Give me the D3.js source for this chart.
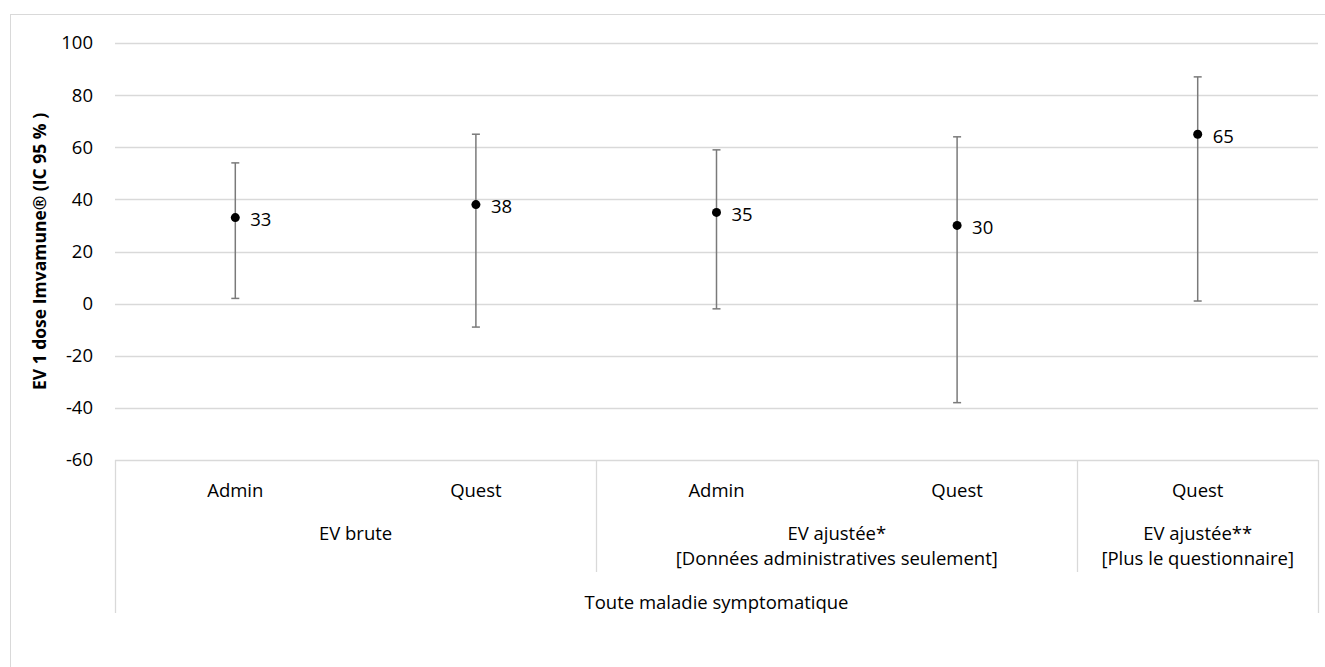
<!DOCTYPE html>
<html>
<head>
<meta charset="utf-8">
<script src="https://cdn.jsdelivr.net/npm/d3@7"></script>
<style>
  body { margin: 0; background: #fff; }
  text { font-family: "Open Sans", "Noto Sans", sans-serif; fill: #000; }
</style>
</head>
<body>
<svg id="canvas" width="1325" height="667"></svg>
<script>
// data
let categories = ['Admin', 'Quest', 'Admin', 'Quest', 'Quest'];
let estimates = [33, 38, 35, 30, 65];
let lower = [2, -9, -2, -38, 1];
let upper = [54, 65, 59, 64, 87];
let groupLabels = [['EV brute'], ['EV ajustée*', '[Données administratives seulement]'], ['EV ajustée**', '[Plus le questionnaire]']];
let groupSizes = [2, 2, 1];
let outerLabel = 'Toute maladie symptomatique';
let yTicks = [-60, -40, -20, 0, 20, 40, 60, 80, 100];
let yTitle = 'EV 1 dose Imvamune® (IC 95 % )';

let svg = d3.select('#canvas');
let plotLeft = 115, plotRight = 1318, plotTop = 43, plotBottom = 460;
let fs = 18.5;

// chart border
svg.append('rect')
    .attr('x', 10.5).attr('y', 14.5)
    .attr('width', 1340).attr('height', 700)
    .attr('fill', 'none').attr('stroke', '#d9d9d9');

let x = d3.scaleBand()
    .domain(d3.range(categories.length))
    .range([plotLeft, plotRight]);

let y = d3.scaleLinear()
    .domain([-60, 100])
    .range([plotBottom, plotTop]);

// grid
svg.append('g')
    .selectAll('line')
    .data(yTicks)
    .enter()
    .append('line')
    .attr('x1', plotLeft).attr('x2', plotRight)
    .attr('y1', d => Math.round(y(d)) + 0.5)
    .attr('y2', d => Math.round(y(d)) + 0.5)
    .attr('stroke', '#d9d9d9')
    .attr('stroke-width', 1.3);

// y axis labels
let yAxis = svg.append('g')
    .attr('transform', `translate(${plotLeft - 22},0)`)
    .call(d3.axisLeft(y).tickValues(yTicks).tickSize(0).tickPadding(0).tickFormat(d => String(d)));
yAxis.select('.domain').remove();
yAxis.selectAll('text')
    .attr('font-size', fs)
    .attr('font-family', '"Open Sans", sans-serif')
    .attr('fill', '#000');

// y title
svg.append('text')
    .attr('transform', `translate(46,${(plotTop + plotBottom) / 2}) rotate(-90)`)
    .attr('text-anchor', 'middle')
    .attr('font-size', 17.5)
    .attr('font-weight', 'bold')
    .text(yTitle);

// error bars
let bars = svg.append('g');
categories.forEach((c, i) => {
    let cx = x(i) + x.bandwidth() / 2;
    bars.append('line')
        .attr('x1', cx).attr('x2', cx)
        .attr('y1', y(upper[i])).attr('y2', y(lower[i]))
        .attr('stroke', '#7a7a7a').attr('stroke-width', 1.5);
    [upper[i], lower[i]].forEach(v => {
        bars.append('line')
            .attr('x1', cx - 4).attr('x2', cx + 4)
            .attr('y1', y(v)).attr('y2', y(v))
            .attr('stroke', '#7a7a7a').attr('stroke-width', 1.5);
    });
});

// points + labels
svg.append('g')
    .selectAll('circle')
    .data(estimates)
    .enter()
    .append('circle')
    .attr('cx', (d, i) => x(i) + x.bandwidth() / 2)
    .attr('cy', d => y(d))
    .attr('r', 4.5)
    .attr('fill', '#000');

svg.append('g')
    .selectAll('text')
    .data(estimates)
    .enter()
    .append('text')
    .attr('x', (d, i) => x(i) + x.bandwidth() / 2 + 15)
    .attr('y', d => y(d) + 8.5)
    .attr('font-size', fs)
    .text(d => d);

// category axis (multi level)
let axisG = svg.append('g');
let lineColor = '#d9d9d9';

categories.forEach((c, i) => {
    axisG.append('text')
        .attr('x', x(i) + x.bandwidth() / 2)
        .attr('y', 497)
        .attr('text-anchor', 'middle')
        .attr('font-size', fs)
        .text(c);
});

let start = 0;
let dividers = [start];
groupLabels.forEach((lines, g) => {
    let end = start + groupSizes[g];
    let x0 = x(start);
    let x1 = x(end - 1) + x.bandwidth();
    lines.forEach((t, k) => {
        axisG.append('text')
            .attr('x', (x0 + x1) / 2)
            .attr('y', 540 + k * 25)
            .attr('text-anchor', 'middle')
            .attr('font-size', fs)
            .text(t);
    });
    start = end;
    dividers.push(start);
});

dividers.forEach((d, k) => {
    let px = d < categories.length ? x(d) : plotRight;
    let outer = (k === 0 || k === dividers.length - 1);
    axisG.append('line')
        .attr('x1', Math.round(px) + 0.5).attr('x2', Math.round(px) + 0.5)
        .attr('y1', plotBottom).attr('y2', outer ? 613 : 572)
        .attr('stroke', lineColor).attr('stroke-width', 1.3);
});

axisG.append('text')
    .attr('x', (plotLeft + plotRight) / 2)
    .attr('y', 609)
    .attr('text-anchor', 'middle')
    .attr('font-size', fs)
    .text(outerLabel);
</script>
</body>
</html>
